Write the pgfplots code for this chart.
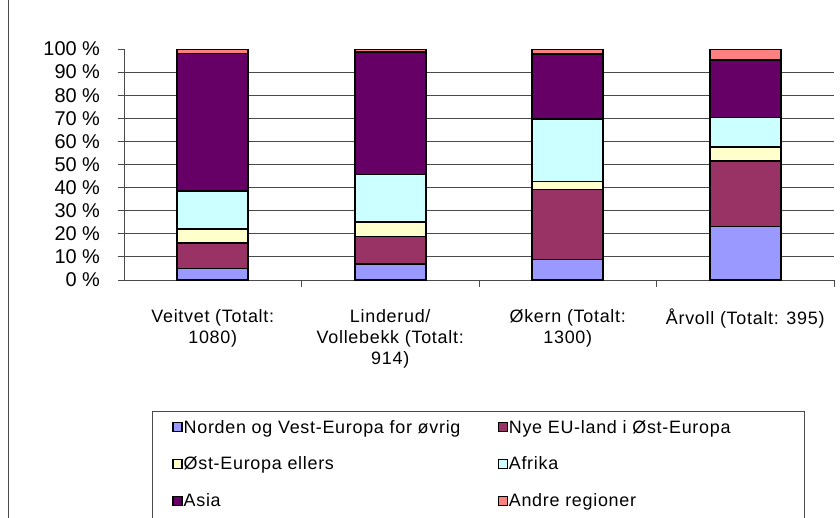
\documentclass[border=0pt]{standalone}
\usepackage{fontspec}
\setmainfont{Liberation Sans}
\newfontfamily\lblfont[LetterSpace=4]{Liberation Sans}
\usepackage{pgfplots}
\pgfplotsset{compat=1.18}
\definecolor{cNorden}{HTML}{9999FF}
\definecolor{cNye}{HTML}{993366}
\definecolor{cOst}{HTML}{FFFFCC}
\definecolor{cAfr}{HTML}{CCFFFF}
\definecolor{cAsia}{HTML}{660066}
\definecolor{cAndre}{HTML}{FF8080}
\definecolor{gridc}{HTML}{4A4A4A}
\begin{document}
\begin{tikzpicture}
\path[use as bounding box] (0bp,0bp) rectangle (840bp,-518bp);
\draw[gridc, line width=1bp] (8.5bp,0bp) -- (8.5bp,-518bp);
\begin{axis}[
  at={(124bp,-280bp)}, anchor=south west,
  scale only axis, width=710bp, height=231bp,
  xmin=-0.5, xmax=3.5, ymin=0, ymax=100,
  axis x line*=bottom, axis y line*=left,
  axis line style={gridc, line width=1bp},
  ybar stacked, bar width=71bp,
  tick align=outside,
  major tick length=6.5bp,
  tick style={gridc, line width=1bp},
  xtick={0.5,1.5,2.5,3.5},
  xticklabels={{Veitvet (Totalt:\\1080)},{Linderud/\\Vollebekk (Totalt:\\914)},{Økern (Totalt:\\1300)},{Årvoll (Totalt: 395)}},
  x tick label style={align=center, anchor=north, font=\lblfont\fontsize{18}{21.5}\selectfont, xshift=-88.75bp, yshift=-19bp},
  ytick={0,10,...,100},
  yticklabels={0 \%,10 \%,20 \%,30 \%,40 \%,50 \%,60 \%,70 \%,80 \%,90 \%,100 \%},
  y tick label style={font=\fontsize{20}{22}\selectfont, xshift=-14bp},
  extra y ticks={10,20,...,90},
  extra y tick labels={},
  extra y tick style={grid=major},
  major grid style={gridc, line width=1bp},
  legend columns=2,
  legend cell align=left,
  legend style={at={(0.0394,-0.5671)}, anchor=north west, draw=gridc, line width=1bp,
    font=\lblfont\fontsize{18}{20}\selectfont, inner xsep=20bp, inner ysep=6.5bp, row sep=18.5bp,
    nodes={inner xsep=1bp, inner ysep=2bp},
    column sep=0pt},
  legend image code/.code={\draw[#1, draw=black, line width=1.2bp] (0bp,-4.5bp) rectangle (9bp,4.5bp);},
]
\addplot[fill=cNorden, draw=black, line width=1.7bp] coordinates {(0,5.0) (1,6.8) (2,8.9) (3,23.1)};
\addlegendentry{\makebox[313bp][l]{Norden og Vest-Europa for øvrig}}
\addplot[fill=cNye, draw=black, line width=1.7bp] coordinates {(0,10.9) (1,12.0) (2,30.3) (3,28.4)};
\addlegendentry{\makebox[275bp][l]{Nye EU-land i Øst-Europa}}
\addplot[fill=cOst, draw=black, line width=1.7bp] coordinates {(0,6.2) (1,6.2) (2,3.4) (3,6.2)};
\addlegendentry{Øst-Europa ellers}
\addplot[fill=cAfr, draw=black, line width=1.7bp] coordinates {(0,16.3) (1,20.7) (2,27.1) (3,12.6)};
\addlegendentry{Afrika}
\addplot[fill=cAsia, draw=black, line width=1.7bp] coordinates {(0,59.7) (1,53.1) (2,28.0) (3,24.9)};
\addlegendentry{Asia}
\addplot[fill=cAndre, draw=black, line width=1.7bp] coordinates {(0,1.9) (1,1.2) (2,2.3) (3,4.8)};
\addlegendentry{Andre regioner}
\addlegendimage{empty legend}
\addlegendentry{}
\addlegendimage{empty legend}
\addlegendentry{}
\end{axis}
\end{tikzpicture}
\end{document}
